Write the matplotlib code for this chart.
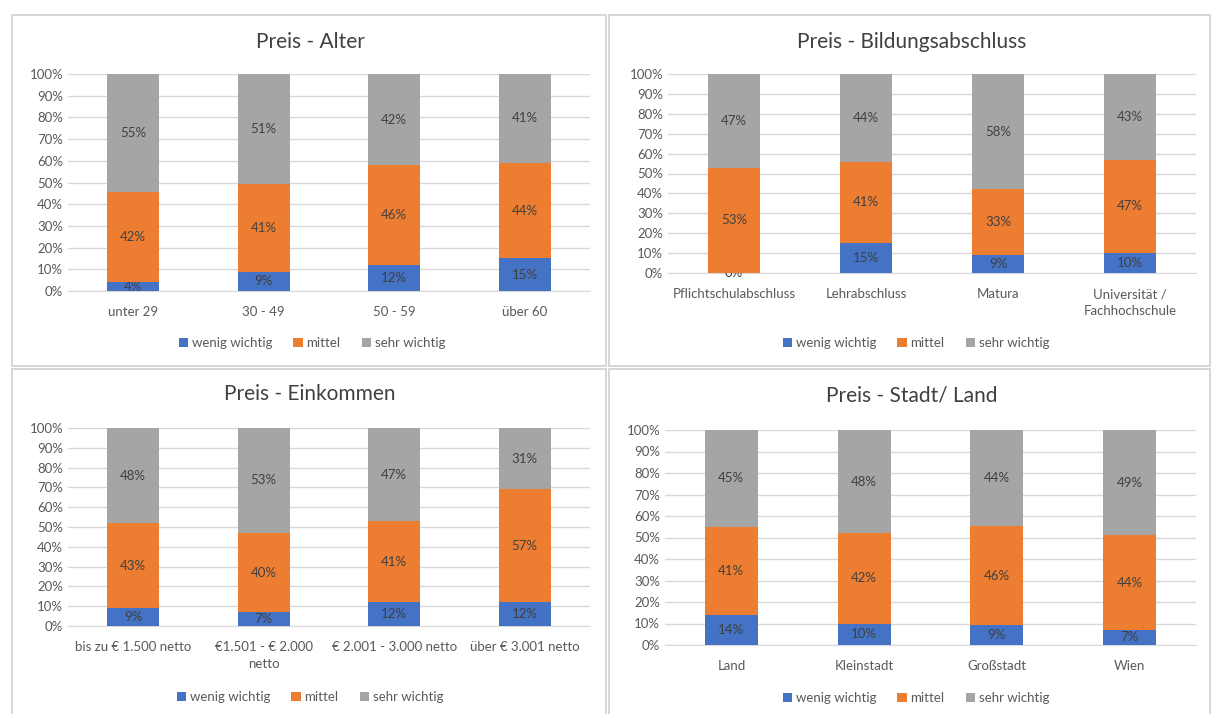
import matplotlib.pyplot as plt
from matplotlib.patches import Rectangle
from matplotlib.ticker import PercentFormatter

plt.rcParams['font.family'] = ['Lato', 'DejaVu Sans']

serien = ['wenig wichtig', 'mittel', 'sehr wichtig']
farben = ['#4472C4', '#ED7D31', '#A5A5A5']

# Preis - Alter
alter_kat = ['unter 29', '30 - 49', '50 - 59', 'über 60']
alter_wenig = [4, 9, 12, 15]
alter_mittel = [42, 41, 46, 44]
alter_sehr = [55, 51, 42, 41]

# Preis - Bildungsabschluss
bildung_kat = ['Pflichtschulabschluss', 'Lehrabschluss', 'Matura', 'Universität /\nFachhochschule']
bildung_wenig = [0, 15, 9, 10]
bildung_mittel = [53, 41, 33, 47]
bildung_sehr = [47, 44, 58, 43]

# Preis - Einkommen
eink_kat = ['bis zu € 1.500 netto', '€1.501 - € 2.000\nnetto', '€ 2.001 - 3.000 netto', 'über € 3.001 netto']
eink_wenig = [9, 7, 12, 12]
eink_mittel = [43, 40, 41, 57]
eink_sehr = [48, 53, 47, 31]

# Preis - Stadt/ Land
stadt_kat = ['Land', 'Kleinstadt', 'Großstadt', 'Wien']
stadt_wenig = [14, 10, 9, 7]
stadt_mittel = [41, 42, 46, 44]
stadt_sehr = [45, 48, 44, 49]

W, H = 1218, 714
fig = plt.figure(figsize=(W / 100, H / 100), dpi=100)
fig.patch.set_facecolor('white')

def px(x, y):
    return x / W, 1 - y / H

def panel(box, ax_px, titel, title_px, legend_px, kat, werte):
    x0, y0, x1, y1 = box
    fig.add_artist(Rectangle(px(x0, y1), (x1 - x0) / W, (y1 - y0) / H,
                             transform=fig.transFigure, fill=False,
                             edgecolor='#D0D0D0', linewidth=1.2))
    l, t, r, b = ax_px
    ax = fig.add_axes([l / W, 1 - b / H, (r - l) / W, (b - t) / H])
    # 100% gestapelt: jede Säule auf ihre Summe normiert
    summen = [sum(s) for s in zip(*werte)]
    unten = [0] * len(kat)
    for name, farbe, vals in zip(serien, farben, werte):
        v = [x / s for x, s in zip(vals, summen)]
        bars = ax.bar(range(len(kat)), v, 0.4, bottom=unten, color=farbe, label=name, zorder=3)
        ax.bar_label(bars, labels=[f'{x}%' for x in vals], label_type='center',
                     color='#404040', fontsize=9.5)
        unten = [u + x for u, x in zip(unten, v)]
    ax.set_ylim(0, 1)
    ax.set_xlim(-0.5, len(kat) - 0.5)
    ax.set_yticks([i / 10 for i in range(11)])
    ax.yaxis.set_major_formatter(PercentFormatter(1.0, decimals=0))
    ax.set_xticks(range(len(kat)))
    ax.set_xticklabels(kat, linespacing=1.45)
    ax.tick_params(axis='both', length=0, colors='#595959', labelsize=9.5)
    ax.tick_params(axis='x', pad=11)
    ax.grid(axis='y', color='#D9D9D9', linewidth=1, zorder=0)
    for s in ['top', 'right', 'left']:
        ax.spines[s].set_visible(False)
    ax.spines['bottom'].set_color('#D9D9D9')
    fig.text(*px(*title_px), titel, ha='center', va='center', fontsize=15, color='#404040')
    h, lb = ax.get_legend_handles_labels()
    fig.legend(h, lb, loc='center', bbox_to_anchor=px(*legend_px), ncol=3, frameon=False,
               handlelength=0.7, handleheight=0.7, handletextpad=0.3, columnspacing=1.6,
               fontsize=9.5, labelcolor='#595959')
    return ax

panel((12, 15, 606, 366), (68, 74, 590, 291), 'Preis - Alter', (310, 42), (312, 343),
      alter_kat, [alter_wenig, alter_mittel, alter_sehr])
panel((609, 15, 1210, 366), (668, 74, 1196, 273), 'Preis - Bildungsabschluss', (912, 42), (916, 343),
      bildung_kat, [bildung_wenig, bildung_mittel, bildung_sehr])
panel((12, 369, 606, 716), (68, 428, 590, 626), 'Preis - Einkommen', (310, 394), (310, 697),
      eink_kat, [eink_wenig, eink_mittel, eink_sehr])
panel((609, 369, 1210, 716), (665, 430, 1196, 645), 'Preis - Stadt/ Land', (912, 395), (916, 698),
      stadt_kat, [stadt_wenig, stadt_mittel, stadt_sehr])

fig.savefig('out.png', dpi=100)
